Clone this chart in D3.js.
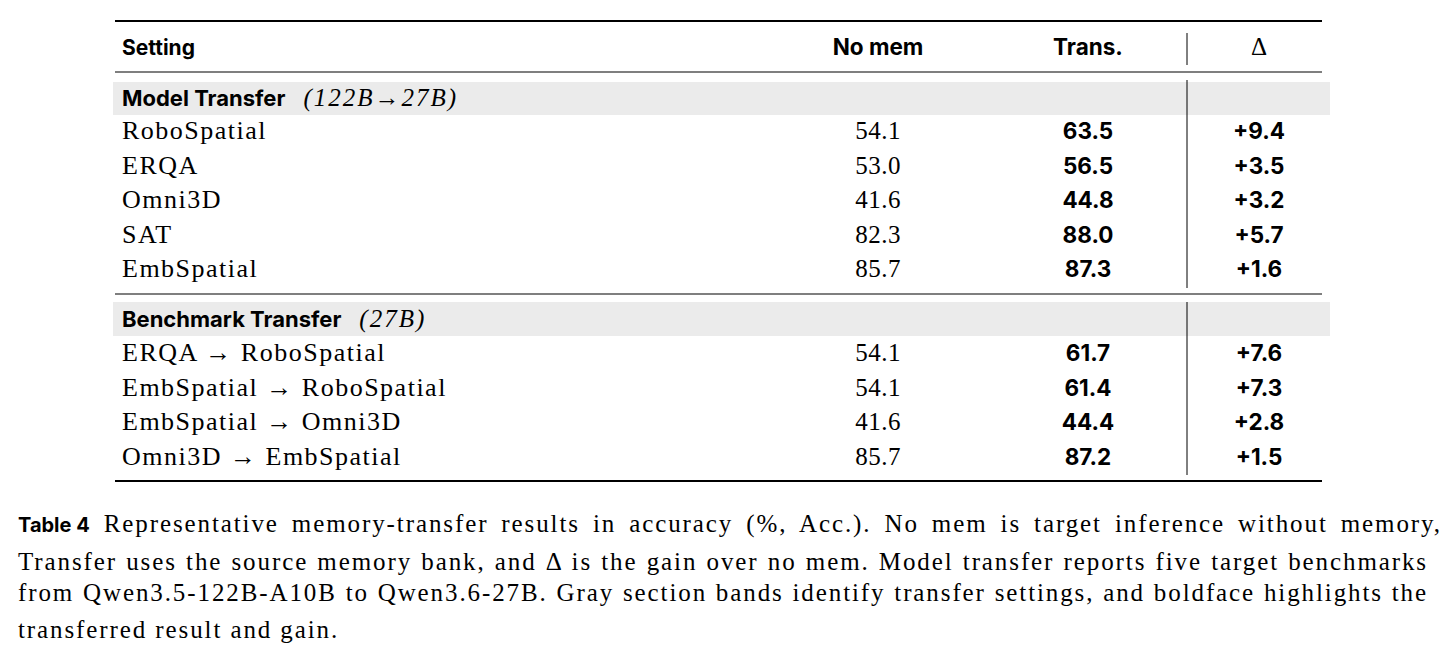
<!DOCTYPE html>
<html><head><meta charset="utf-8">
<script src="https://cdn.jsdelivr.net/npm/d3@7"></script>
<style>body{margin:0;background:#fff}</style></head>
<body><svg id="c" width="1447" height="657"></svg>
<script>
const headers = ["Setting","No mem","Trans.","\u0394"];
const sec1Title = ["Model Transfer","(122B\u219227B)"];
const sec1Rows = ["RoboSpatial","ERQA","Omni3D","SAT","EmbSpatial"];
const sec1NoMem = ["54.1","53.0","41.6","82.3","85.7"];
const sec1Trans = ["63.5","56.5","44.8","88.0","87.3"];
const sec1Delta = ["+9.4","+3.5","+3.2","+5.7","+1.6"];
const sec2Title = ["Benchmark Transfer","(27B)"];
const sec2Rows = ["ERQA \u2192 RoboSpatial","EmbSpatial \u2192 RoboSpatial","EmbSpatial \u2192 Omni3D","Omni3D \u2192 EmbSpatial"];
const sec2NoMem = ["54.1","54.1","41.6","85.7"];
const sec2Trans = ["61.7","61.4","44.4","87.2"];
const sec2Delta = ["+7.6","+7.3","+2.8","+1.5"];
const captionLines = [
 ["Table 4","Representative memory-transfer results in accuracy (%, Acc.). No mem is target inference without memory,"],
 ["","Transfer uses the source memory bank, and \u0394 is the gain over no mem. Model transfer reports five target benchmarks"],
 ["","from Qwen3.5-122B-A10B to Qwen3.6-27B. Gray section bands identify transfer settings, and boldface highlights the"],
 ["","transferred result and gain."]];

const svg=d3.select("#c");
const sans="Inter, 'Open Sans', sans-serif", serif="'Liberation Serif','DejaVu Serif',serif";
const L=115,R=1322,vx=1187;
const xc={noMem:878,trans:1088,delta:1259};
const y1=d3.scaleLinear().domain([0,4]).range([131,269]);
const y2=d3.scaleLinear().domain([0,3]).range([353,457]);
svg.append("rect").attr("x",L-2).attr("y",82).attr("width",R-L+10).attr("height",33).attr("fill","#ebebeb");
svg.append("rect").attr("x",L-2).attr("y",302).attr("width",R-L+10).attr("height",34).attr("fill","#ebebeb");
const rule=(yy,w)=>svg.append("line").attr("x1",L).attr("x2",R).attr("y1",yy).attr("y2",yy).attr("stroke","#000").attr("stroke-width",w);
rule(21,2.2);rule(72,1.2);rule(294,1.2);rule(481,2.2);
const vline=(a,b)=>svg.append("line").attr("x1",vx).attr("x2",vx).attr("y1",a).attr("y2",b).attr("stroke","#000").attr("stroke-width",1);
vline(33,65);vline(80,288);vline(302,475);
svg.append("text").attr("x",122).attr("y",55).text(headers[0]).attr("font-family",sans).attr("font-weight",700).attr("font-size",21);
[[headers[1],xc.noMem],[headers[2],xc.trans]].forEach(([t,xx])=>svg.append("text").attr("x",xx).attr("y",55).attr("text-anchor","middle").text(t).attr("font-family",sans).attr("font-weight",700).attr("font-size",22.5));
svg.append("text").attr("x",xc.delta).attr("y",55).attr("text-anchor","middle").text(headers[3]).attr("font-family",serif).attr("font-size",25);
function section(title,ty,rows,nm,tr,de,ys){
  const t=svg.append("text").attr("x",122).attr("y",ty).attr("font-size",22);
  t.append("tspan").text(title[0]).attr("font-family",sans).attr("font-weight",700);
  t.append("tspan").text(title[1]).attr("font-family",serif).attr("font-style","italic").attr("font-size",25).attr("letter-spacing",2).attr("dx",18);
  rows.forEach((r,i)=>{
    const yy=ys(i)+8;
    svg.append("text").attr("x",122).attr("y",yy).text(r).attr("font-family",serif).attr("font-size",26).attr("letter-spacing",1.5);
    svg.append("text").attr("x",xc.noMem).attr("y",yy).attr("text-anchor","middle").text(nm[i]).attr("font-family",serif).attr("font-size",25).attr("letter-spacing",0.5);
    svg.append("text").attr("x",xc.trans).attr("y",yy).attr("text-anchor","middle").text(tr[i]).attr("font-family",sans).attr("font-weight",700).attr("font-size",22.5);
    svg.append("text").attr("x",xc.delta).attr("y",yy).attr("text-anchor","middle").text(de[i]).attr("font-family",sans).attr("font-weight",700).attr("font-size",22.5);
  });
}
section(sec1Title,106,sec1Rows,sec1NoMem,sec1Trans,sec1Delta,y1);
section(sec2Title,327,sec2Rows,sec2NoMem,sec2Trans,sec2Delta,y2);
const cy=[532,570,601,638];
captionLines.forEach((c,i)=>{
  const t=svg.append("text").attr("x",18).attr("y",cy[i]).attr("class","cap");
  if(c[0]) t.append("tspan").text(c[0]).attr("font-family",sans).attr("font-weight",700).attr("font-size",20);
  const s=t.append("tspan").text(c[1]).attr("font-family",serif).attr("font-size",25).attr("letter-spacing",1.9).attr("class","body");
  if(c[0]) s.attr("dx",14);
  if(i<3){
    const w=t.node().getComputedTextLength();
    const n=(c[1].match(/ /g)||[]).length;
    if(w<1410&&n>0) s.attr("word-spacing",(1410-w)/n);
  }
});
</script></body></html>
